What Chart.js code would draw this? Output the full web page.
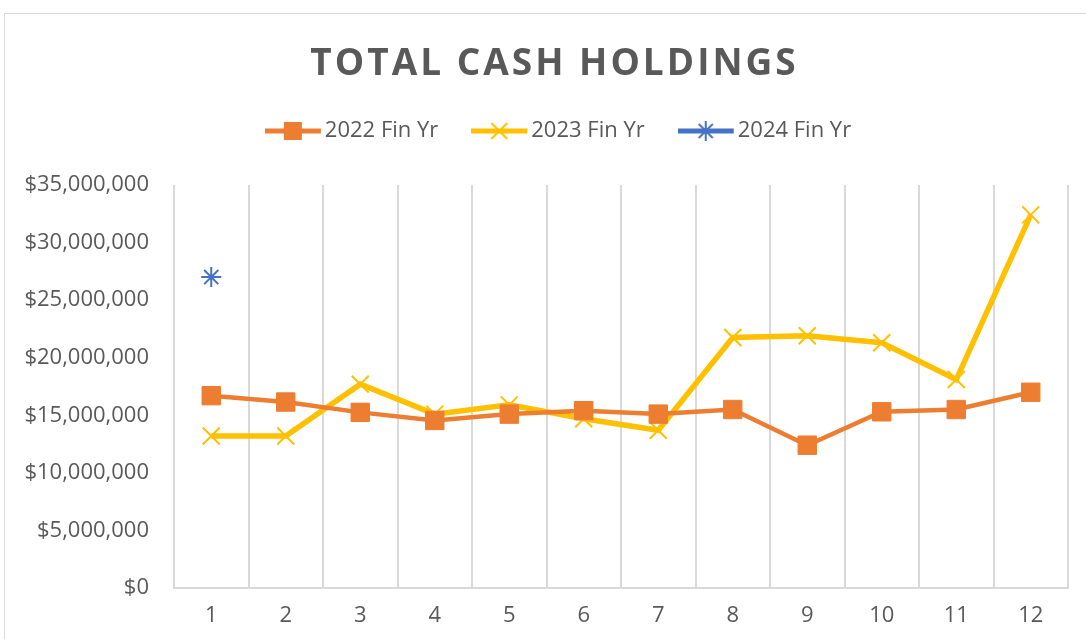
<!DOCTYPE html>
<html>
<head>
<meta charset="utf-8">
<script src="https://cdn.jsdelivr.net/npm/chart.js@4.4.1/dist/chart.umd.min.js"></script>
<style>
  html, body { margin: 0; padding: 0; background: #fff; overflow: hidden; }
  #frame {
    position: absolute; left: 4px; top: 13px;
    width: 1100px; height: 640px;
    border: 1px solid #d9d9d9; box-sizing: border-box;
  }
  #wrap { position: absolute; left: 0; top: 0; width: 1081px; height: 625px; }
</style>
</head>
<body>
<div id="frame"><div id="wrap"><canvas id="myChart"></canvas></div></div>
<script>
// Month numbers of the financial year
var months = ['1', '2', '3', '4', '5', '6', '7', '8', '9', '10', '11', '12'];

// Month-end cash balances
var fy2022 = [16700000, 16150000, 15250000, 14550000, 15100000, 15400000, 15100000, 15500000, 12400000, 15300000, 15500000, 17000000];
var fy2023 = [13200000, 13200000, 17700000, 15100000, 15900000, 14700000, 13700000, 21750000, 21900000, 21300000, 18100000, 32400000];
var fy2024 = [27000000, null, null, null, null, null, null, null, null, null, null, null];

var yTicks = [0, 5000000, 10000000, 15000000, 20000000, 25000000, 30000000, 35000000];

var grey = '#595959';
var fontFamily = '"Open Sans", "Noto Sans", sans-serif';

// legend swatch: a short line with the series marker in the middle
// (image is wider than the legend box so the line sits close to the text)
function swatch(color, style) {
    var c = document.createElement('canvas');
    c.width = 62; c.height = 22;
    var g = c.getContext('2d');
    var x0 = 0, x1 = 56, mx = 28, my = 11;
    g.strokeStyle = color; g.fillStyle = color;
    g.lineWidth = 5;
    g.beginPath(); g.moveTo(x0, my); g.lineTo(x1, my); g.stroke();
    g.lineWidth = 2;
    if (style === 'rect') {
        g.fillRect(mx - 9, my - 9, 18, 18);
    } else if (style === 'crossRot') {
        g.beginPath();
        g.moveTo(mx - 8, my - 8); g.lineTo(mx + 8, my + 8);
        g.moveTo(mx + 8, my - 8); g.lineTo(mx - 8, my + 8);
        g.stroke();
    } else {
        g.beginPath();
        g.moveTo(mx - 7, my - 7); g.lineTo(mx + 7, my + 7);
        g.moveTo(mx + 7, my - 7); g.lineTo(mx - 7, my + 7);
        g.moveTo(mx, my - 10); g.lineTo(mx, my + 10);
        g.stroke();
    }
    return c;
}

var swatches = [
    swatch('#ED7D31', 'rect'),
    swatch('#FFC000', 'crossRot'),
    swatch('#4472C4', 'star')
];

// draws the chart title with letter spacing inside the space kept by the built-in title
var spacedTitle = {
    id: 'spacedTitle',
    afterLayout: function (chart) {
        // nudge the legend row so it sits over the middle of the plot
        if (chart.legend) {
            chart.legend.left += 19;
            chart.legend.right += 19;
        }
    },
    afterDraw: function (chart) {
        var tb = chart.titleBlock;
        if (!tb) return;
        var c = chart.ctx;
        c.save();
        c.font = 'bold 37px ' + fontFamily;
        c.letterSpacing = '3px';
        c.fillStyle = grey;
        c.textAlign = 'center';
        c.textBaseline = 'middle';
        c.fillText(chart.options.plugins.title.text, (tb.left + tb.right) / 2 + 9, tb.top + 50);
        c.restore();
    },
};

var data = {
    labels: months,
    datasets: [
        {
            label: '2022 Fin Yr',
            data: fy2022,
            borderColor: '#ED7D31',
            backgroundColor: '#ED7D31',
            borderWidth: 4.5,
            pointStyle: 'rect',
            pointRadius: 13,
            pointHoverRadius: 13,
            pointBorderWidth: 1,
        },
        {
            label: '2023 Fin Yr',
            data: fy2023,
            borderColor: '#FFC000',
            backgroundColor: '#FFC000',
            borderWidth: 5.5,
            pointStyle: 'crossRot',
            pointRadius: 12,
            pointHoverRadius: 12,
            pointBorderWidth: 2,
        },
        {
            label: '2024 Fin Yr',
            data: fy2024,
            borderColor: '#4472C4',
            backgroundColor: '#4472C4',
            borderWidth: 4,
            pointStyle: 'star',
            pointRadius: 10,
            pointHoverRadius: 10,
            pointBorderWidth: 2,
        },
    ],
};

var options = {
    responsive: true,
    maintainAspectRatio: false,
    animation: false,
    layout: { padding: { left: 18, right: 18, top: 0, bottom: 0 } },
    plugins: {
        title: {
            display: true,
            text: 'TOTAL CASH HOLDINGS',
            color: 'rgba(0,0,0,0)',
            font: { family: fontFamily, size: 37, weight: 'bold', lineHeight: 1.62 },
            padding: 0,
        },
        // empty spacer between the legend and the plot
        subtitle: {
            display: true,
            text: '',
            weight: 500,
            font: { size: 1, lineHeight: 1 },
            padding: { top: 0, bottom: 32 },
        },
        legend: {
            labels: {
                usePointStyle: true,
                pointStyleWidth: 36,
                color: grey,
                font: { family: fontFamily, size: 22 },
                padding: 46,
                generateLabels: function (chart) {
                    return chart.data.datasets.map(function (ds, i) {
                        return {
                            text: ds.label,
                            fillStyle: ds.backgroundColor,
                            strokeStyle: ds.borderColor,
                            pointStyle: swatches[i],
                            fontColor: grey,
                            datasetIndex: i,
                            hidden: false,
                        };
                    });
                },
            },
        },
        tooltip: { enabled: false },
    },
    scales: {
        x: {
            offset: true,
            grid: { offset: true, color: '#d9d9d9', lineWidth: 2, drawTicks: false },
            border: { color: '#d9d9d9', width: 2 },
            ticks: { color: grey, font: { family: fontFamily, size: 22 }, padding: 15 },
            afterFit: function (axis) { axis.height = 51; },
        },
        y: {
            min: 0,
            max: 35000000,
            afterBuildTicks: function (axis) {
                axis.ticks = yTicks.map(function (v) { return { value: v }; });
            },
            grid: { display: false },
            border: { display: false },
            ticks: {
                color: grey,
                font: { family: fontFamily, size: 22 },
                padding: 17,
                callback: function (v) { return '$' + v.toLocaleString('en-US'); },
            },
            afterFit: function (axis) { axis.width = 151; },
        },
    },
};

var ctx = document.getElementById('myChart').getContext('2d');
var myLineChart = new Chart(ctx, {
    type: 'line',
    data: data,
    options: options,
    plugins: [spacedTitle],
});
</script>
</body>
</html>
